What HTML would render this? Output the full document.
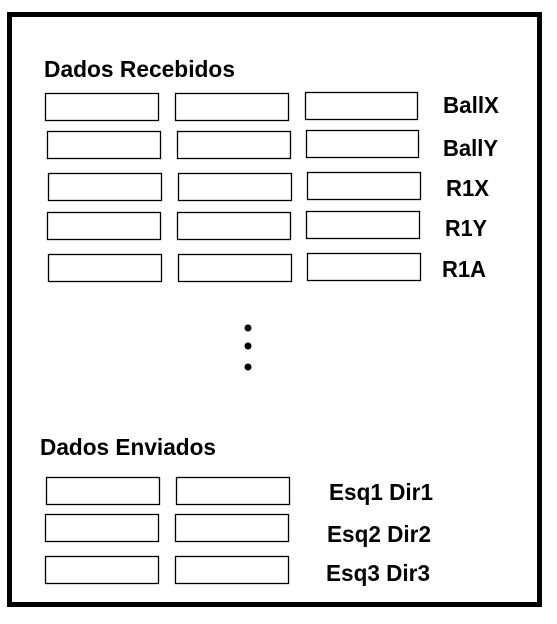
<!DOCTYPE html>
<html><head><meta charset="utf-8"><style>html,body{margin:0;padding:0;background:#fff}svg{display:block}</style></head>
<body>
<svg width="557" height="624" viewBox="0 0 557 624" xmlns="http://www.w3.org/2000/svg" font-family="Liberation Sans, sans-serif" font-weight="bold" fill="#000">
<rect x="9.5" y="14.5" width="530" height="590" fill="none" stroke="#000" stroke-width="5"/>
<g fill="none" stroke="#000" stroke-width="1.3">
<rect x="45.5" y="93.5" width="113" height="27"/><rect x="175.5" y="93.5" width="113" height="27"/><rect x="305.5" y="92.5" width="112" height="27"/>
<rect x="47.5" y="131.5" width="113" height="27"/><rect x="177.5" y="131.5" width="113" height="27"/><rect x="306.5" y="130.5" width="112" height="27"/>
<rect x="48.5" y="173.5" width="113" height="27"/><rect x="178.5" y="173.5" width="113" height="27"/><rect x="307.5" y="172.5" width="113" height="27"/>
<rect x="47.5" y="212.5" width="113" height="27"/><rect x="177.5" y="212.5" width="113" height="27"/><rect x="306.5" y="211.5" width="113" height="27"/>
<rect x="48.5" y="254.5" width="113" height="27"/><rect x="178.5" y="254.5" width="113" height="27"/><rect x="307.5" y="253.5" width="113" height="27"/>
<rect x="46.5" y="477.5" width="113" height="27"/><rect x="176.5" y="477.5" width="113" height="27"/>
<rect x="45.5" y="514.5" width="113" height="27"/><rect x="175.5" y="514.5" width="113" height="27"/>
<rect x="45.5" y="556.5" width="113" height="27"/><rect x="175.5" y="556.5" width="113" height="27"/>
</g>
<circle cx="248" cy="328" r="3.5"/><circle cx="248" cy="346" r="3.5"/><circle cx="248" cy="367" r="3.5"/>
<g font-size="23">
<text x="44" y="77" textLength="191" lengthAdjust="spacingAndGlyphs">Dados Recebidos</text>
<text x="40" y="455" textLength="176" lengthAdjust="spacingAndGlyphs">Dados Enviados</text>
<text x="443" y="113" textLength="56" lengthAdjust="spacingAndGlyphs">BallX</text>
<text x="443" y="156" textLength="55" lengthAdjust="spacingAndGlyphs">BallY</text>
<text x="446" y="196" textLength="43" lengthAdjust="spacingAndGlyphs">R1X</text>
<text x="445" y="236" textLength="42" lengthAdjust="spacingAndGlyphs">R1Y</text>
<text x="442" y="277" textLength="44" lengthAdjust="spacingAndGlyphs">R1A</text>
<text x="329" y="500" textLength="104" lengthAdjust="spacingAndGlyphs">Esq1 Dir1</text>
<text x="327" y="542" textLength="104" lengthAdjust="spacingAndGlyphs">Esq2 Dir2</text>
<text x="326" y="581" textLength="104" lengthAdjust="spacingAndGlyphs">Esq3 Dir3</text>
</g>
</svg>
</body></html>
